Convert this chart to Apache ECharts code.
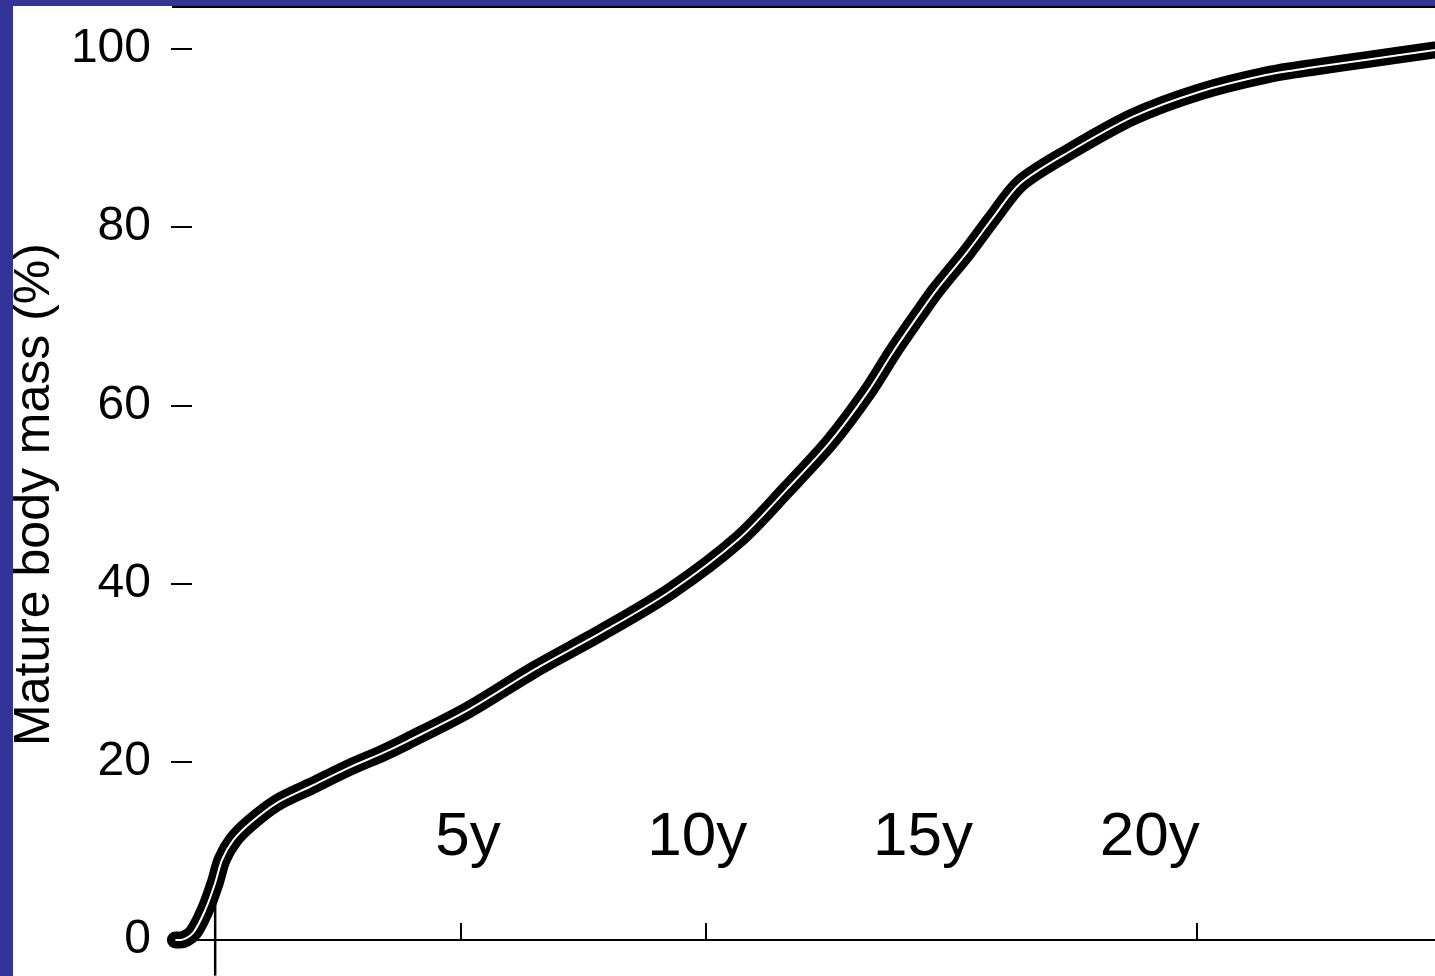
<!DOCTYPE html>
<html>
<head>
<meta charset="utf-8">
<title>Mature body mass</title>
<script src="https://cdn.jsdelivr.net/npm/echarts@6/dist/echarts.min.js"></script>
<style>
html, body { margin: 0; padding: 0; background: #fff; }
#main { width: 1435px; height: 976px; }
</style>
</head>
<body>
<div id="main"></div>
<script>
// age in years (negative = before birth), mass as % of mature body mass
var ages = [-0.81, -0.71, -0.45, -0.2, 0, 0.14, 0.37, 0.71, 1.26, 1.93, 2.75, 3.42, 3.91, 5.15, 6.52, 7.9, 9.29, 10.67,
	11.65, 12.53, 13.28, 13.81, 14.36, 14.7, 15.32, 15.85, 16.4, 17.35, 18.7, 20.06, 21.43, 22.44, 23.46, 24.85];
var mass = [0, 0, 0.8, 3.4, 6.4, 9.0, 11.2, 13.1, 15.4, 17.2, 19.4, 21.0, 22.3, 25.8, 30.4, 34.6, 39.2, 45.0,
	50.6, 55.9, 61.4, 66.0, 70.4, 73.0, 77.2, 81.1, 84.9, 88.3, 92.4, 95.2, 97.1, 98.0, 98.8, 99.9];

var yTicks = [0, 20, 40, 60, 80, 100];
var xTicks = [5, 10, 20];
var ageLabels = ['5y', '10y', '15y', '20y'];
var ageLabelX = [5.15, 9.82, 14.42, 19.04];
var ageLabelY = 11.45;
var birthMark = [[0, -4], [0, 5.5]];

var curve = ages.map(function(a, i){ return [a, mass[i]]; });
var labelPts = ageLabels.map(function(t, i){ return {value: [ageLabelX[i], ageLabelY], name: t}; });

var myChart = echarts.init(document.getElementById('main'));
var option = {
	animation: false,
	backgroundColor: '#fff',
	grid: { left: 171, right: 0, top: 49, bottom: 36, outerBoundsMode: 'none', containLabel: false },
	xAxis: {
		type: 'value',
		min: -0.9,
		max: 24.85,
		splitLine: { show: false },
		axisLine: { show: true, onZero: false, lineStyle: { color: '#000', width: 2 } },
		axisTick: { show: true, inside: true, length: 17, customValues: xTicks, lineStyle: { color: '#000', width: 2 } },
		axisLabel: { show: false }
	},
	yAxis: {
		type: 'value',
		min: 0,
		max: 100,
		interval: 20,
		name: 'Mature body mass (%)',
		nameLocation: 'middle',
		nameGap: 111,
		nameTextStyle: { fontFamily: 'Liberation Sans', fontSize: 50, color: '#000' },
		splitLine: { show: false },
		axisLine: { show: false, onZero: false },
		axisTick: { show: true, inside: true, length: 21, customValues: yTicks, lineStyle: { color: '#000', width: 2 } },
		axisLabel: { margin: 20, fontFamily: 'Liberation Sans', fontSize: 48, color: '#000', customValues: yTicks }
	},
	graphic: [
		{ type: 'rect', shape: { x: 0, y: 0, width: 1435, height: 6 }, style: { fill: '#333399' } },
		{ type: 'rect', shape: { x: 0, y: 0, width: 13, height: 976 }, style: { fill: '#333399' } },
		{ type: 'rect', shape: { x: 172, y: 6, width: 1263, height: 2 }, style: { fill: '#000' } }
	],
	series: [
		{
			// birth marker
			type: 'line',
			data: birthMark,
			clip: false,
			symbol: 'none',
			lineStyle: { color: '#000', width: 2.5 },
			z: 1
		},
		{
			type: 'line',
			data: curve,
			clip: false,
			smooth: 0.3,
			symbol: 'none',
			lineStyle: { color: '#000', width: 17, cap: 'round', join: 'round' },
			z: 2
		},
		{
			type: 'line',
			data: curve,
			clip: false,
			smooth: 0.3,
			symbol: 'none',
			lineStyle: { color: '#fff', width: 2 },
			z: 3
		},
		{
			type: 'scatter',
			data: labelPts,
			symbolSize: 0,
			itemStyle: { opacity: 1 },
			label: {
				show: true,
				position: 'inside',
				formatter: '{b}',
				fontFamily: 'Liberation Sans',
				fontSize: 62,
				color: '#000'
			},
			z: 4
		}
	]
};
myChart.setOption(option);
</script>
</body>
</html>
